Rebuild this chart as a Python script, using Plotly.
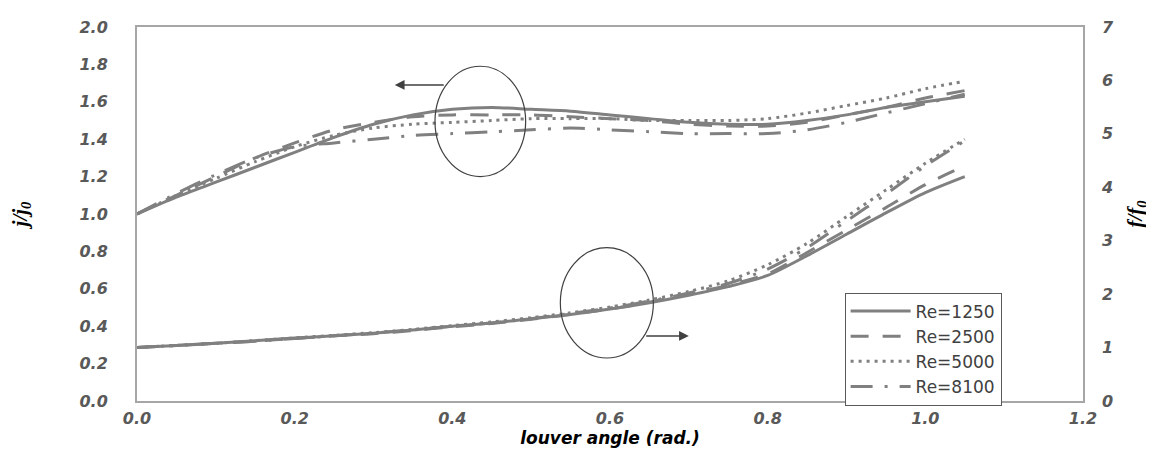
import plotly.graph_objects as go

angle = [0.00, 0.05, 0.10, 0.15, 0.20, 0.25, 0.30, 0.35, 0.40, 0.45, 0.50,
         0.55, 0.60, 0.65, 0.70, 0.75, 0.80, 0.85, 0.90, 0.95, 1.00, 1.05]

series_names = ["Re=1250", "Re=2500", "Re=5000", "Re=8100"]

# j/j0 (left axis)
j_1250 = [1.00, 1.09, 1.17, 1.25, 1.33, 1.41, 1.48, 1.53, 1.56, 1.57, 1.56,
          1.55, 1.53, 1.51, 1.49, 1.48, 1.48, 1.50, 1.53, 1.57, 1.60, 1.63]
j_2500 = [1.00, 1.10, 1.20, 1.30, 1.38, 1.45, 1.49, 1.52, 1.53, 1.53, 1.53,
          1.52, 1.51, 1.50, 1.48, 1.47, 1.47, 1.49, 1.53, 1.57, 1.62, 1.66]
j_5000 = [1.00, 1.10, 1.19, 1.28, 1.36, 1.42, 1.46, 1.48, 1.49, 1.50, 1.51,
          1.51, 1.51, 1.50, 1.50, 1.50, 1.51, 1.54, 1.58, 1.62, 1.67, 1.71]
j_8100 = [1.00, 1.11, 1.21, 1.30, 1.36, 1.38, 1.40, 1.42, 1.43, 1.44, 1.45,
          1.46, 1.45, 1.44, 1.43, 1.43, 1.43, 1.45, 1.49, 1.54, 1.59, 1.64]

# f/f0 (right axis)
f_1250 = [1.00, 1.04, 1.08, 1.13, 1.18, 1.22, 1.27, 1.33, 1.40, 1.46, 1.54,
          1.62, 1.72, 1.84, 1.98, 2.14, 2.35, 2.72, 3.12, 3.52, 3.90, 4.20]
f_2500 = [1.00, 1.04, 1.08, 1.12, 1.17, 1.22, 1.26, 1.32, 1.39, 1.45, 1.53,
          1.62, 1.72, 1.85, 2.00, 2.17, 2.38, 2.78, 3.20, 3.62, 4.05, 4.40]
f_5000 = [1.00, 1.04, 1.08, 1.13, 1.18, 1.23, 1.28, 1.34, 1.41, 1.48, 1.56,
          1.65, 1.76, 1.89, 2.05, 2.25, 2.55, 2.95, 3.45, 3.95, 4.45, 4.90]
f_8100 = [1.00, 1.04, 1.08, 1.12, 1.17, 1.22, 1.27, 1.33, 1.40, 1.46, 1.54,
          1.64, 1.74, 1.87, 2.02, 2.20, 2.47, 2.87, 3.37, 3.87, 4.40, 4.87]

x_ticks = [0.0, 0.2, 0.4, 0.6, 0.8, 1.0, 1.2]
y_left_ticks = [0.0, 0.2, 0.4, 0.6, 0.8, 1.0, 1.2, 1.4, 1.6, 1.8, 2.0]
y_right_ticks = [0, 1, 2, 3, 4, 5, 6, 7]

line_color = "#808080"
dashes = ["solid", "18px,14px", "3px,5px", "22px,12px,3px,12px"]

fig = go.Figure()
j_sets = [j_1250, j_2500, j_5000, j_8100]
f_sets = [f_1250, f_2500, f_5000, f_8100]
for name, jv, fv, d in zip(series_names, j_sets, f_sets, dashes):
    fig.add_trace(go.Scatter(x=angle, y=jv, mode="lines", name=name,
                             legendgroup=name,
                             line=dict(color=line_color, width=3, dash=d,
                                       shape="spline", smoothing=0.8)))
    fig.add_trace(go.Scatter(x=angle, y=fv, mode="lines", name=name,
                             legendgroup=name, showlegend=False, yaxis="y2",
                             line=dict(color=line_color, width=3, dash=d,
                                       shape="spline", smoothing=0.8)))

tick_font = dict(family="DejaVu Sans", size=16, color="#595959")
axis_line = "#A6A6A6"

fig.update_layout(
    width=1154, height=450,
    margin=dict(l=129, r=79, t=19, b=57, autoexpand=False),
    plot_bgcolor="white", paper_bgcolor="white",
    showlegend=True,
    legend=dict(x=0.748, y=0.29, xanchor="left", yanchor="top",
                bordercolor="#595959", borderwidth=1, bgcolor="white",
                font=dict(family="DejaVu Sans", size=17, color="#404040"),
                tracegroupgap=0, itemwidth=60),
    xaxis=dict(range=[0, 1.2], tickvals=x_ticks,
               ticktext=[f"<b><i>{v:.1f}</i></b>" for v in x_ticks],
               tickfont=tick_font, showgrid=False, zeroline=False,
               showline=True, linecolor=axis_line, linewidth=2, mirror=True,
               ticks="", ticklabelstandoff=2, automargin=False,
               title=dict(text="<b><i>louver angle (rad.)</i></b>",
                          font=dict(family="DejaVu Sans", size=17, color="#000000"),
                          standoff=2)),
    yaxis=dict(range=[0, 2.0], tickvals=y_left_ticks,
               ticktext=[f"<b><i>{v:.1f}</i></b>" for v in y_left_ticks],
               tickfont=tick_font, showgrid=False, zeroline=False,
               showline=True, linecolor=axis_line, linewidth=2, mirror=True,
               ticks="", ticklabelstandoff=24, automargin=False,
               title=dict(text="<b><i>j/j<sub>0</sub></i></b>",
                          font=dict(family="Liberation Serif", size=21, color="#000000"),
                          standoff=48)),
    yaxis2=dict(range=[0, 7], tickvals=y_right_ticks,
                ticktext=[f"<b><i>{v}</i></b>" for v in y_right_ticks],
                tickfont=tick_font, overlaying="y", side="right",
                showgrid=False, zeroline=False, showline=False,
                ticks="", ticklabelstandoff=18, automargin=False,
                title=dict(text="<b><i>f/f<sub>0</sub></i></b>",
                           font=dict(family="Liberation Serif", size=21, color="#000000"),
                           standoff=14)),
)

# ellipses marking the two groups
fig.add_shape(type="circle", xref="x", yref="y", x0=0.378, x1=0.493, y0=1.20, y1=1.79,
              line=dict(color="#404040", width=1.2))
fig.add_shape(type="circle", xref="x", yref="y", x0=0.537, x1=0.655, y0=0.23, y1=0.82,
              line=dict(color="#404040", width=1.2))

# arrows pointing to the relevant axis
fig.add_annotation(x=0.327, y=1.69, ax=0.391, ay=1.69, xref="x", yref="y",
                   axref="x", ayref="y", showarrow=True, arrowhead=2,
                   arrowsize=1.3, arrowwidth=1.5, arrowcolor="#404040", text="")
fig.add_annotation(x=0.70, y=0.348, ax=0.644, ay=0.348, xref="x", yref="y",
                   axref="x", ayref="y", showarrow=True, arrowhead=2,
                   arrowsize=1.3, arrowwidth=1.5, arrowcolor="#404040", text="")

fig.write_html("out.html")
